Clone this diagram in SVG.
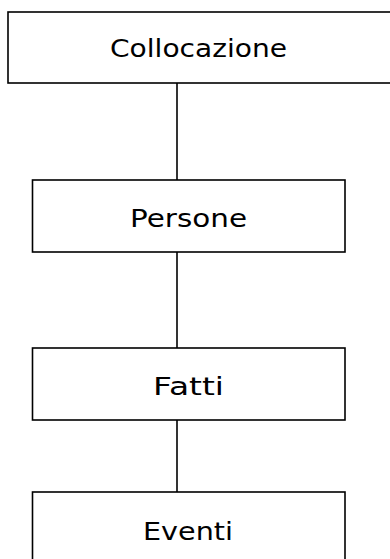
<svg xmlns="http://www.w3.org/2000/svg" width="390" height="559" viewBox="0 0 390 559">
<style>
.box{fill:#fff;stroke:#000;stroke-width:1.6}
.lbl{font-family:"DejaVu Sans","Liberation Sans",sans-serif;font-size:25px;fill:#000;text-anchor:middle}
.conn{stroke:#000;stroke-width:1.6;fill:none}
</style>
<g id="connectors">
<line class="conn" x1="177" y1="83" x2="177" y2="180"/>
<line class="conn" x1="177" y1="252" x2="177" y2="348"/>
<line class="conn" x1="177" y1="420" x2="177" y2="492"/>
</g>
<g id="collocazione">
<rect class="box" x="8" y="12" width="390" height="71"/>
<text class="lbl" x="198.5" y="57" textLength="177" lengthAdjust="spacingAndGlyphs">Collocazione</text>
</g>
<g id="persone">
<rect class="box" x="32.5" y="180" width="312.5" height="72"/>
<text class="lbl" x="188.5" y="227" textLength="117" lengthAdjust="spacingAndGlyphs">Persone</text>
</g>
<g id="fatti">
<rect class="box" x="32.5" y="348" width="312.5" height="72"/>
<text class="lbl" x="188.5" y="395" textLength="71" lengthAdjust="spacingAndGlyphs">Fatti</text>
</g>
<g id="eventi">
<rect class="box" x="32.5" y="492" width="312.5" height="90"/>
<text class="lbl" x="188" y="540" textLength="90" lengthAdjust="spacingAndGlyphs">Eventi</text>
</g>
</svg>
